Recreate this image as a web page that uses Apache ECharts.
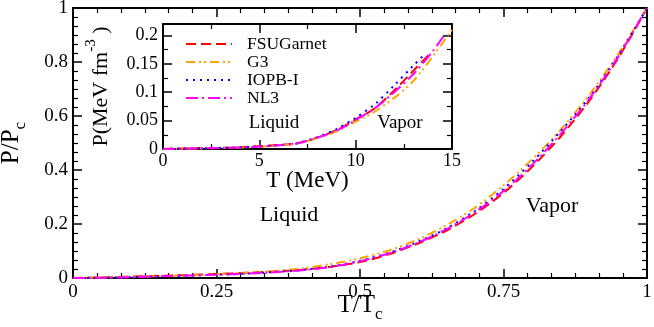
<!DOCTYPE html>
<html>
<head>
<meta charset="utf-8">
<script src="https://cdn.jsdelivr.net/npm/echarts@6/dist/echarts.min.js"></script>
<style>
  html, body { margin: 0; padding: 0; background: #fff; }
  #chart { width: 654px; height: 327px; }
</style>
</head>
<body>
<div id="chart"></div>
<script>
// main panel: reduced temperature T/Tc vs reduced pressure P/Pc
const mainT = [0, 0.05, 0.1, 0.15, 0.2, 0.25, 0.3, 0.35, 0.4, 0.45, 0.5,
  0.55, 0.6, 0.65, 0.7, 0.75, 0.8, 0.85, 0.9, 0.95, 1];
const mainFSUGarnet = [0, 0.002, 0.005, 0.008, 0.011, 0.015, 0.019, 0.024, 0.031, 0.042, 0.059,
  0.088, 0.127, 0.175, 0.237, 0.315, 0.412, 0.525, 0.658, 0.815, 1];
const mainG3 = [0, 0.002, 0.004, 0.007, 0.010, 0.014, 0.019, 0.026, 0.036, 0.052, 0.073,
  0.102, 0.142, 0.195, 0.26, 0.343, 0.44, 0.55, 0.68, 0.83, 1];
const mainIOPB = [0, 0.001, 0.003, 0.006, 0.009, 0.012, 0.016, 0.022, 0.030, 0.043, 0.064,
  0.093, 0.133, 0.183, 0.248, 0.33, 0.43, 0.545, 0.67, 0.825, 1];
const mainNL3 = [0, 0.001, 0.003, 0.006, 0.009, 0.012, 0.016, 0.021, 0.029, 0.041, 0.062,
  0.091, 0.13, 0.18, 0.243, 0.322, 0.42, 0.535, 0.665, 0.82, 1];

// inset: T (MeV) vs P (MeV fm^-3), each curve ends at its own Tc
const insetTFSUGarnet = [0, 1, 2, 3, 4, 5, 6, 7, 8, 9, 10, 11, 12, 13, 13.8];
const insetPFSUGarnet = [0, 0.001, 0.0015, 0.002, 0.003, 0.005, 0.007, 0.0105, 0.02, 0.033, 0.052, 0.072, 0.103, 0.138, 0.166];
const insetTG3 = [0, 1, 2, 3, 4, 5, 6, 7, 8, 9, 10, 11, 12, 13, 14, 15];
const insetPG3 = [0, 0.0006, 0.001, 0.0016, 0.0025, 0.004, 0.0062, 0.0098, 0.019, 0.031, 0.048, 0.066, 0.09, 0.12, 0.163, 0.21];
const insetTIOPB = [0, 1, 2, 3, 4, 5, 6, 7, 8, 9, 10, 11, 12, 13, 13.65];
const insetPIOPB = [0, 0.0008, 0.0013, 0.002, 0.003, 0.0045, 0.0068, 0.0105, 0.021, 0.035, 0.055, 0.079, 0.112, 0.147, 0.169];
const insetTNL3 = [0, 1, 2, 3, 4, 5, 6, 7, 8, 9, 10, 11, 12, 13, 14, 14.55];
const insetPNL3 = [0, 0.0007, 0.0012, 0.0018, 0.0028, 0.0042, 0.0065, 0.0102, 0.02, 0.032, 0.051, 0.072, 0.1, 0.132, 0.172, 0.198];

const seriesNames = ["FSUGarnet", "G3", "IOPB-I", "NL3"];
const seriesColors = ["#ff0000", "#ffa500", "#0000ff", "#ff00ff"];
const seriesDash = [[10, 5], [9, 4, 2, 3, 2, 4], [2, 5], [12, 4, 2, 4]];

const FONT = "Liberation Serif";

function pairs(xs, ys) {
  return xs.map((x, i) => [x, ys[i]]);
}

// shared axis look: black frame, ticks pointing inwards
function frameAxis(extra, minorSplit) {
  return Object.assign({
    type: "value",
    nameMoveOverlap: false,
    axisLine: { show: true, onZero: false, lineStyle: { color: "#000", width: 2 } },
    axisTick: { show: true, inside: true, length: 9, lineStyle: { color: "#000", width: 1.5 } },
    minorTick: { show: true, splitNumber: minorSplit, length: 5, lineStyle: { color: "#000", width: 1.2 } },
    splitLine: { show: false },
    minorSplitLine: { show: false },
    axisLabel: { show: false },
  }, extra);
}

const mainData = [mainFSUGarnet, mainG3, mainIOPB, mainNL3];
const insetData = [
  pairs(insetTFSUGarnet, insetPFSUGarnet),
  pairs(insetTG3, insetPG3),
  pairs(insetTIOPB, insetPIOPB),
  pairs(insetTNL3, insetPNL3),
];

const series = [];
seriesNames.forEach((name, i) => {
  series.push({
    name: name,
    type: "line",
    xAxisIndex: 0,
    yAxisIndex: 0,
    data: pairs(mainT, mainData[i]),
    symbol: "none",
    showSymbol: false,
    smooth: 0.3,
    lineStyle: { color: seriesColors[i], width: 2, type: seriesDash[i] },
    itemStyle: { color: seriesColors[i] },
  });
  series.push({
    name: name,
    type: "line",
    xAxisIndex: 2,
    yAxisIndex: 2,
    data: insetData[i],
    symbol: "none",
    showSymbol: false,
    smooth: 0.3,
    clip: true,
    lineStyle: { color: seriesColors[i], width: 2, type: seriesDash[i] },
    itemStyle: { color: seriesColors[i] },
  });
});

const tickLabel = { show: true, color: "#000", fontFamily: FONT, fontSize: 19, margin: 5 };
const insetLabel = { show: true, color: "#000", fontFamily: FONT, fontSize: 18, margin: 5 };

let chart = echarts.init(document.getElementById("chart"), null, { renderer: "canvas" });
chart.setOption({
  animation: false,
  backgroundColor: "#fff",
  grid: [
    { left: 73, right: 7, top: 8, bottom: 49, outerBoundsMode: "none", containLabel: false },
    { left: 163, right: 202, top: 24, bottom: 178, outerBoundsMode: "none", containLabel: false,
      show: true, backgroundColor: "#fff", borderWidth: 0 },
  ],
  legend: {
    data: seriesNames,
    orient: "vertical",
    left: 185,
    top: 35,
    padding: 0,
    itemGap: 0,
    itemWidth: 46,
    itemHeight: 10,
    itemStyle: { opacity: 0 },
    textStyle: { color: "#000", fontFamily: FONT, fontSize: 17.5, lineHeight: 14.5, padding: [0, 0, 0, 10] },
  },
  xAxis: [
    frameAxis({
      gridIndex: 0, min: 0, max: 1, interval: 0.25, position: "bottom",
      axisLabel: Object.assign({}, tickLabel, { margin: 5 }),
      name: "{a|T/T}{s|c}",
      nameLocation: "middle",
      nameGap: 15,
      nameTextStyle: {
        rich: {
          a: { fontFamily: FONT, fontSize: 25, color: "#000", lineHeight: 30, verticalAlign: "top" },
          s: { fontFamily: FONT, fontSize: 17, color: "#000", lineHeight: 30, verticalAlign: "bottom" },
        },
      },
    }, 6),
    frameAxis({ gridIndex: 0, min: 0, max: 1, interval: 0.25, position: "top" }, 6),
    frameAxis({
      gridIndex: 1, min: 0, max: 15, interval: 5, position: "bottom",
      axisLabel: Object.assign({}, insetLabel, { margin: 3 }),
      name: "T (MeV)",
      nameLocation: "middle",
      nameGap: 20,
      nameTextStyle: { fontFamily: FONT, fontSize: 23, color: "#000" },
    }, 2),
    frameAxis({ gridIndex: 1, min: 0, max: 15, interval: 5, position: "top" }, 2),
  ],
  yAxis: [
    frameAxis({
      gridIndex: 0, min: 0, max: 1, interval: 0.2, position: "left",
      axisLabel: tickLabel,
      name: "{a|P/P}{s|c}",
      nameLocation: "middle",
      nameRotate: 90,
      nameGap: 44,
      nameTextStyle: {
        rich: {
          a: { fontFamily: FONT, fontSize: 25, color: "#000", lineHeight: 30, verticalAlign: "top" },
          s: { fontFamily: FONT, fontSize: 17, color: "#000", lineHeight: 30, verticalAlign: "bottom" },
        },
      },
    }, 6),
    frameAxis({ gridIndex: 0, min: 0, max: 1, interval: 0.2, position: "right" }, 6),
    frameAxis({
      gridIndex: 1, min: 0, max: 0.22, interval: 0.05, position: "left",
      axisLabel: Object.assign({}, insetLabel, { showMaxLabel: false }),
      name: "{a|P(MeV fm}{u|-3}{a| )}",
      nameLocation: "middle",
      nameRotate: 90,
      nameGap: 51,
      nameTextStyle: {
        rich: {
          a: { fontFamily: FONT, fontSize: 22, color: "#000", lineHeight: 28, verticalAlign: "bottom" },
          u: { fontFamily: FONT, fontSize: 15, color: "#000", lineHeight: 28, verticalAlign: "top" },
        },
      },
    }, 2),
    frameAxis({ gridIndex: 1, min: 0, max: 0.22, interval: 0.05, position: "right" }, 2),
  ],
  graphic: [
    { type: "text", x: 289, y: 215, style: { text: "Liquid", fontFamily: FONT, fontSize: 22, fill: "#000", align: "center", verticalAlign: "middle" } },
    { type: "text", x: 552, y: 206, style: { text: "Vapor", fontFamily: FONT, fontSize: 22, fill: "#000", align: "center", verticalAlign: "middle" } },
    { type: "text", x: 274, y: 123, style: { text: "Liquid", fontFamily: FONT, fontSize: 19, fill: "#000", align: "center", verticalAlign: "middle" } },
    { type: "text", x: 400, y: 123, style: { text: "Vapor", fontFamily: FONT, fontSize: 19, fill: "#000", align: "center", verticalAlign: "middle" } },
  ],
  series: series,
});

window.addEventListener("resize", () => {
  chart.resize();
});
</script>
</body>
</html>
